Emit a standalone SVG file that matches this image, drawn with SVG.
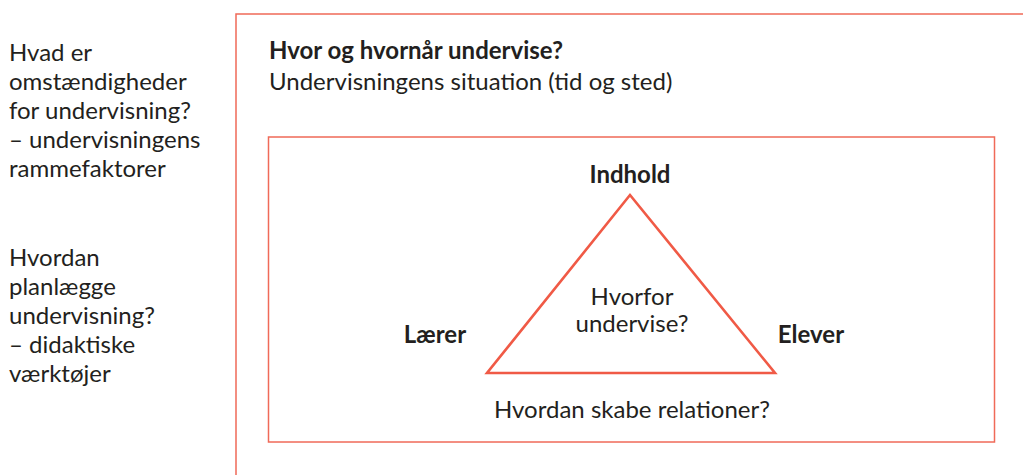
<svg xmlns="http://www.w3.org/2000/svg" width="1023" height="475" viewBox="0 0 1023 475">
<style>
text{font-family:Lato,"Liberation Sans",sans-serif;font-size:24px;fill:#231f20}
.b{font-weight:bold}
.frame{fill:none;stroke:#f06a58;stroke-width:1.5}
.tri{fill:none;stroke:#f05a46;stroke-width:2.6;stroke-linejoin:miter}
</style>
<rect width="1023" height="475" fill="#ffffff"/>
<g id="left-text">
<text x="9" y="61">Hvad er</text>
<text x="9" y="90">omstændigheder</text>
<text x="9" y="119">for undervisning?</text>
<text x="9" y="148">– undervisningens</text>
<text x="9" y="177">rammefaktorer</text>
<text x="9" y="266">Hvordan</text>
<text x="9" y="295">planlægge</text>
<text x="9" y="324">undervisning?</text>
<text x="9" y="353">– didaktiske</text>
<text x="9" y="382">værktøjer</text>
</g>
<g id="outer-frame">
<rect class="frame" x="236" y="14" width="800" height="480"/>
<text class="b" x="269" y="59">Hvor og hvornår undervise?</text>
<text x="269" y="90">Undervisningens situation (tid og sted)</text>
</g>
<g id="inner-frame">
<rect class="frame" x="268.5" y="137" width="726" height="305"/>
<text x="632" y="418" text-anchor="middle">Hvordan skabe relationer?</text>
</g>
<g id="connectors">
<polygon class="tri" points="630,195 487,373 775,373"/>
</g>
<g id="node-indhold"><text class="b" x="630" y="183" text-anchor="middle">Indhold</text></g>
<g id="node-laerer"><text class="b" x="435" y="343" text-anchor="middle">Lærer</text></g>
<g id="node-elever"><text class="b" x="811" y="343" text-anchor="middle">Elever</text></g>
<g id="node-center">
<text x="632" y="305" text-anchor="middle">Hvorfor</text>
<text x="632" y="332" text-anchor="middle">undervise?</text>
</g>
</svg>
